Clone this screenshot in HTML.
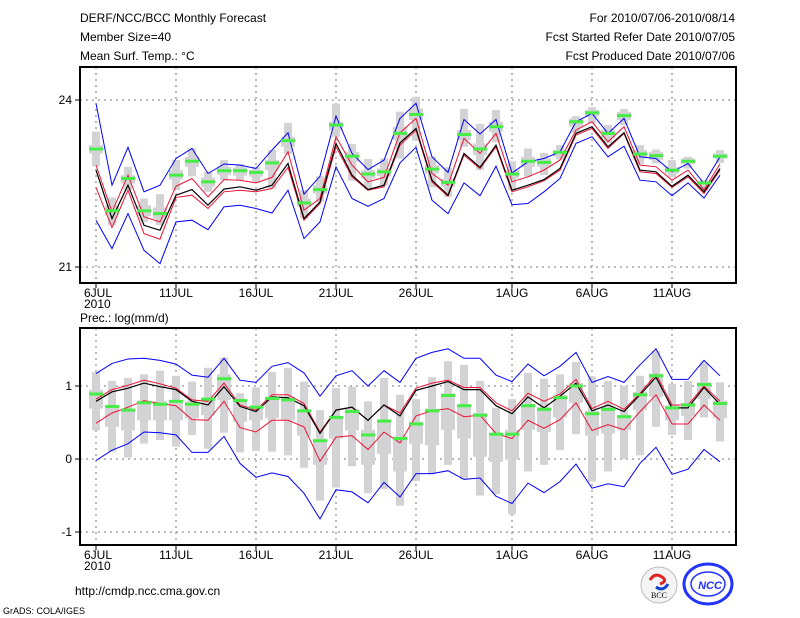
<!DOCTYPE html>
<html><head><meta charset="utf-8"><style>
body{margin:0;background:#fff;}
svg{display:block;font-family:"Liberation Sans",sans-serif;font-size:12px;}
</style></head><body>
<svg id="c" width="800" height="618" viewBox="0 0 800 618">
<g>
<text x="80" y="22">DERF/NCC/BCC Monthly Forecast</text>
<text x="80" y="41">Member Size=40</text>
<text x="80" y="60">Mean Surf. Temp.: °C</text>
<text x="735" y="22" text-anchor="end">For 2010/07/06-2010/08/14</text>
<text x="735" y="41" text-anchor="end">Fcst Started Refer Date 2010/07/05</text>
<text x="735" y="60" text-anchor="end">Fcst Produced Date 2010/07/06</text>
<text x="80" y="322">Prec.: log(mm/d)</text>
<text x="75" y="595">http://cmdp.ncc.cma.gov.cn</text>
<text x="3" y="614" font-size="9">GrADS: COLA/IGES</text>
</g>
<g>
<circle cx="659" cy="585" r="18" fill="#f4f4f4" stroke="#bbb"/>
<path d="M650 580 q5 -8 12 -3 q6 4 -2 7" fill="none" stroke="#d22" stroke-width="3"/>
<path d="M668 584 q-5 8 -12 3" fill="none" stroke="#14c" stroke-width="3"/>
<text x="659" y="598" font-size="8" text-anchor="middle" font-family="Liberation Serif,serif">BCC</text>
</g>
<g>
<ellipse cx="708" cy="584" rx="24" ry="20" fill="none" stroke="#23f" stroke-width="3"/>
<ellipse cx="708" cy="584" rx="17" ry="12" fill="none" stroke="#23f" stroke-width="1.5"/>
<text x="710" y="589" font-size="11" font-style="italic" font-weight="bold" fill="#23f" text-anchor="middle">NCC</text>
</g>
</svg>
<script>
const days=40;
const xTickIdx=[0,5,10,15,20,26,31,36];
const xTickLabels=["6JUL","11JUL","16JUL","21JUL","26JUL","1AUG","6AUG","11AUG"];
// Temperature panel
const tMean=[22.74,21.87,22.47,21.75,21.66,22.29,22.39,22.11,22.40,22.44,22.38,22.47,22.86,21.87,22.17,23.22,22.65,22.39,22.47,23.23,23.49,22.56,22.29,23.04,22.79,23.19,22.38,22.47,22.57,22.77,23.40,23.52,23.16,23.41,22.74,22.71,22.45,22.65,22.35,22.77];
const tRedHi=[22.83,21.99,22.65,21.90,21.81,22.45,22.59,22.26,22.57,22.56,22.51,22.61,23.07,22.02,22.23,23.34,22.83,22.53,22.61,23.41,23.67,22.68,22.47,23.31,23.04,23.40,22.53,22.62,22.74,22.92,23.46,23.61,23.25,23.52,22.83,22.80,22.56,22.74,22.39,22.85];
const tRedLo=[22.43,21.71,22.38,21.60,21.50,22.25,22.29,22.05,22.35,22.38,22.35,22.41,22.79,21.84,22.14,23.16,22.62,22.38,22.44,23.19,23.46,22.53,22.27,23.01,22.77,23.16,22.35,22.44,22.55,22.74,23.37,23.49,23.13,23.40,22.71,22.68,22.43,22.62,22.32,22.74];
const tBlueHi=[23.94,22.47,23.15,22.35,22.47,22.95,23.13,22.68,22.85,22.83,22.77,23.10,23.41,22.31,22.63,23.71,23.04,22.75,22.92,23.67,23.94,22.98,22.70,23.65,23.39,23.65,22.69,22.89,22.95,23.07,23.61,23.76,23.40,23.67,22.98,22.95,22.71,22.86,22.50,22.98];
const tBlueLo=[21.84,21.33,21.96,21.30,21.06,21.81,21.84,21.67,22.08,22.11,22.05,21.97,22.38,21.51,21.81,22.80,22.23,22.09,22.23,22.87,23.15,22.20,21.96,22.51,22.28,22.81,22.12,22.14,22.35,22.59,23.22,23.34,22.98,23.17,22.56,22.53,22.28,22.51,22.24,22.65];
const tMedian=[23.12,22.01,22.59,22.01,21.96,22.65,22.90,22.53,22.73,22.73,22.70,22.87,23.27,22.15,22.39,23.55,22.99,22.67,22.71,23.40,23.74,22.76,22.52,23.38,23.12,23.52,22.67,22.90,22.88,23.06,23.61,23.77,23.40,23.72,23.03,23.00,22.74,22.90,22.51,22.99];
const tMax=[23.43,22.25,22.80,22.23,22.31,22.92,23.13,22.71,22.92,22.85,22.80,23.10,23.59,22.38,22.63,23.93,23.21,22.94,22.95,23.79,24.06,22.99,22.79,23.84,23.57,23.82,22.90,23.13,23.05,23.19,23.71,23.87,23.55,23.84,23.19,23.11,22.92,22.98,22.56,23.10];
const tMin=[22.81,21.75,22.38,21.81,21.75,22.38,22.63,22.35,22.56,22.56,22.53,22.41,23.03,21.87,22.17,23.34,22.55,22.39,22.47,22.95,23.27,22.43,22.26,23.16,22.74,23.24,22.38,22.62,22.65,22.93,23.41,23.58,23.23,23.55,22.85,22.86,22.61,22.77,22.38,22.87];
const tQ3=[23.19,22.11,22.65,22.11,22.07,22.74,22.98,22.61,22.80,22.79,22.74,22.92,23.34,22.23,22.47,23.61,23.07,22.74,22.77,23.52,23.85,22.83,22.59,23.46,23.22,23.61,22.74,22.98,22.95,23.10,23.67,23.82,23.47,23.79,23.10,23.07,22.80,22.95,22.55,23.04];
const tQ1=[23.04,21.93,22.50,21.91,21.87,22.57,22.80,22.44,22.65,22.64,22.62,22.74,23.16,22.08,22.32,23.46,22.89,22.59,22.63,23.28,23.64,22.68,22.44,23.28,23.01,23.43,22.59,22.80,22.80,22.98,23.52,23.70,23.31,23.64,22.95,22.92,22.68,22.85,22.47,22.95];
const tTickVals=[21,24];
const tTickLabels=["21","24"];
// Precipitation panel
const pMean=[0.79,0.92,0.97,1.04,0.99,0.95,0.79,0.74,0.99,0.72,0.65,0.85,0.84,0.73,0.35,0.67,0.71,0.53,0.74,0.59,0.94,1.00,1.06,0.95,0.95,0.73,0.62,0.85,0.70,0.86,1.04,0.66,0.74,0.65,0.88,1.12,0.70,0.70,0.98,0.75];
const pRedHi=[0.82,0.95,1.01,1.08,1.03,0.97,0.81,0.79,1.04,0.74,0.67,0.88,0.88,0.76,0.37,0.67,0.71,0.53,0.74,0.63,0.97,1.04,1.08,0.98,0.98,0.77,0.66,0.90,0.79,0.89,1.09,0.69,0.79,0.68,0.90,1.16,0.74,0.74,1.00,0.79];
const pRedLo=[0.49,0.63,0.71,0.80,0.76,0.73,0.54,0.53,0.79,0.43,0.37,0.53,0.53,0.44,-0.03,0.30,0.32,0.13,0.37,0.22,0.59,0.66,0.69,0.58,0.60,0.35,0.28,0.53,0.42,0.54,0.77,0.39,0.47,0.40,0.65,0.88,0.48,0.48,0.74,0.53];
const pBlueHi=[1.17,1.31,1.37,1.38,1.35,1.30,1.15,1.12,1.38,1.08,1.05,1.27,1.32,1.18,0.86,1.14,1.21,1.00,1.21,1.05,1.38,1.46,1.51,1.38,1.38,1.15,1.06,1.30,1.14,1.27,1.46,1.05,1.13,1.05,1.29,1.51,1.09,1.09,1.35,1.14];
const pBlueLo=[-0.02,0.12,0.21,0.37,0.36,0.33,0.09,0.09,0.31,-0.06,-0.25,-0.19,-0.24,-0.47,-0.82,-0.42,-0.45,-0.60,-0.32,-0.52,-0.20,-0.20,-0.16,-0.28,-0.26,-0.51,-0.61,-0.33,-0.46,-0.31,-0.07,-0.40,-0.34,-0.38,-0.06,0.16,-0.21,-0.14,0.13,-0.04];
const pMedian=[0.89,0.72,0.67,0.77,0.75,0.79,0.75,0.82,1.10,0.80,0.71,0.83,0.81,0.66,0.25,0.57,0.65,0.33,0.52,0.28,0.48,0.66,0.87,0.73,0.60,0.34,0.34,0.73,0.68,0.84,1.00,0.62,0.68,0.58,0.88,1.14,0.70,0.74,1.02,0.76];
const pMax=[1.19,1.07,1.11,1.16,1.21,1.14,1.06,1.25,1.39,0.90,0.98,1.19,1.25,1.06,0.67,0.97,0.99,0.79,1.11,0.88,0.82,1.12,1.34,1.29,1.07,0.70,0.82,1.18,1.10,1.16,1.33,1.13,1.07,1.00,1.14,1.48,1.03,1.07,1.32,1.05];
const pMin=[0.39,0.10,0.02,0.21,0.26,0.17,0.33,0.14,0.36,0.09,0.11,0.10,0.05,-0.12,-0.57,-0.39,-0.10,-0.47,-0.41,-0.64,-0.30,-0.21,-0.08,-0.28,-0.50,-0.48,-0.76,-0.17,-0.08,0.12,0.34,-0.31,-0.17,0.00,0.05,0.44,0.33,0.26,0.57,0.24];
const pQ3=[0.95,0.73,0.68,0.80,0.79,0.80,0.79,0.83,1.16,0.82,0.73,0.85,0.85,0.68,0.28,0.59,0.69,0.40,0.53,0.31,0.51,0.69,0.90,0.74,0.63,0.35,0.40,0.75,0.71,0.88,1.04,0.66,0.72,0.60,0.92,1.17,0.73,0.77,1.05,0.80];
const pQ1=[0.69,0.44,0.39,0.53,0.53,0.53,0.56,0.60,0.81,0.51,0.53,0.56,0.53,0.32,-0.08,0.28,0.39,-0.08,0.07,-0.17,0.21,0.19,0.40,0.28,0.03,-0.04,-0.01,0.40,0.37,0.57,0.77,0.32,0.35,0.40,0.67,0.85,0.53,0.59,0.82,0.56];
const pTickVals=[-1,0,1];
const pTickLabels=["-1","0","1"];

const NS="http://www.w3.org/2000/svg";
const svg=document.getElementById('c');
function mk(tag,attrs,parent){const e=document.createElementNS(NS,tag);for(const k in attrs)e.setAttribute(k,attrs[k]);(parent||svg).appendChild(e);return e;}
const X0=96,DX=16;
function xs(i){return X0+i*DX;}

function panel(cfg){
  const g=mk('g',{});
  
  
  const ys=v=>cfg.y0+(v-cfg.v0)*(cfg.y1-cfg.y0)/(cfg.v1-cfg.v0);
  // grid
  xTickIdx.forEach(i=>{const l=mk('line',{x1:xs(i),x2:xs(i),y1:cfg.top,y2:cfg.bot,stroke:'#777','stroke-dasharray':'2,4'},g);
    });
  cfg.ticks.forEach((v,k)=>{const l=mk('line',{x1:80,x2:736,y1:ys(v),y2:ys(v),stroke:'#777','stroke-dasharray':'2,4'},g);
    
    const t=mk('line',{x1:75,x2:80,y1:ys(v),y2:ys(v),stroke:'#000'},g);
    
    const tx=mk('text',{x:72,y:ys(v)+4,'text-anchor':'end'},g);tx.textContent=cfg.tickLabels[k];
    });
  // boxes
  for(let i=0;i<days;i++){
    const w=mk('rect',{x:xs(i)-4,y:ys(cfg.max[i]),width:8,height:Math.max(1,ys(cfg.min[i])-ys(cfg.max[i])),fill:'#d3d3d6'},g);
    
    const b=mk('rect',{x:xs(i)-7,y:ys(cfg.q3[i]),width:14,height:Math.max(1,ys(cfg.q1[i])-ys(cfg.q3[i])),fill:'#d3d3d6'},g);
    
  }
  const line=(arr,col,w,name)=>{const p=mk('polyline',{points:arr.map((v,i)=>xs(i)+','+ys(v).toFixed(1)).join(' '),fill:'none',stroke:col,'stroke-width':w},g);
    };
  line(cfg.blueHi,'#0000ff',1,'blue-upper-line');
  line(cfg.blueLo,'#0000ff',1,'blue-lower-line');
  line(cfg.redHi,'#ee1133',1,'red-upper-line');
  line(cfg.redLo,'#ee1133',1,'red-lower-line');
  line(cfg.mean,'#000',1.2,'ensemble-mean-line');
  for(let i=0;i<days;i++){
    const m=mk('rect',{x:xs(i)-7,y:ys(cfg.med[i])-1.5,width:14,height:3,fill:'#44ee44'},g);
    
  }
  // frame
  const f=mk('rect',{x:80,y:cfg.top,width:656,height:cfg.bot-cfg.top,fill:'none',stroke:'#000','stroke-width':2},g);
  
  xTickIdx.forEach((i,k)=>{const t=mk('line',{x1:xs(i),x2:xs(i),y1:cfg.bot,y2:cfg.bot+5,stroke:'#000'},g);
    
    const tx=mk('text',{x:xs(i)-12,y:cfg.bot+14},g);tx.textContent=xTickLabels[k];
    if(k>0){tx.setAttribute('x',xs(i));tx.setAttribute('text-anchor','middle');}
    });
  const yr=mk('text',{x:xs(0)-12,y:cfg.bot+25},g);yr.textContent='2010';
  
}
panel({name:'temperature-panel',top:67,bot:283,v0:24,y0:100,v1:21,y1:267,ticks:tTickVals,tickLabels:tTickLabels,
  mean:tMean,redHi:tRedHi,redLo:tRedLo,blueHi:tBlueHi,blueLo:tBlueLo,med:tMedian,max:tMax,min:tMin,q3:tQ3,q1:tQ1});
panel({name:'precipitation-panel',top:328,bot:545,v0:1,y0:386,v1:0,y1:459,ticks:pTickVals,tickLabels:pTickLabels,
  mean:pMean,redHi:pRedHi,redLo:pRedLo,blueHi:pBlueHi,blueLo:pBlueLo,med:pMedian,max:pMax,min:pMin,q3:pQ3,q1:pQ1});
</script>
</body></html>
